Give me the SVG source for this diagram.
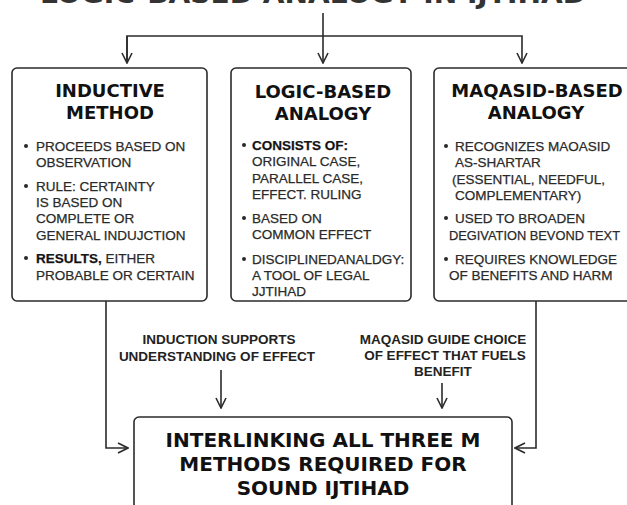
<svg xmlns="http://www.w3.org/2000/svg" width="627" height="505" viewBox="0 0 627 505">
<defs>
<style>
.box{fill:#fff;stroke:#2b2b2b;stroke-width:1.6}
.ttl{font-family:"DejaVu Sans",sans-serif;font-weight:bold;font-size:18px;fill:#111;text-anchor:middle}
.big{font-family:"DejaVu Sans",sans-serif;font-weight:bold;font-size:20px;fill:#111;text-anchor:middle}
.bt{font-family:"Liberation Sans",Arial,sans-serif;font-size:13.5px;fill:#2a2a2a;stroke:#2a2a2a;stroke-width:0.25}
.b{font-weight:bold;fill:#111}
.lbl{font-family:"Liberation Sans",Arial,sans-serif;font-weight:bold;font-size:13.5px;fill:#222;text-anchor:middle}
.con{fill:none;stroke:#2b2b2b;stroke-width:1.6}
.dot{fill:#2a2a2a}
</style>
<marker id="ah" viewBox="0 0 12 12" refX="11" refY="6" markerWidth="12" markerHeight="12" markerUnits="userSpaceOnUse" orient="auto">
<path d="M1,1 L11,6 L1,11" fill="none" stroke="#2b2b2b" stroke-width="1.6"/>
</marker>
</defs>
<rect width="627" height="505" fill="#fff"/>

<text x="313" y="3" font-family="DejaVu Sans,sans-serif" font-weight="bold" font-size="26" fill="#333" text-anchor="middle" textLength="546" lengthAdjust="spacingAndGlyphs">LOGIC-BASED ANALOGY IN IJTIHAD</text>

<g id="connectors">
<path class="con" d="M323,13 V63" marker-end="url(#ah)"/>
<path class="con" d="M127,63 V36 H522 V63" marker-end="url(#ah)"/>
<path class="con" d="M127,36 V63" marker-end="url(#ah)"/>
<path class="con" d="M106,301 V448 H128" marker-end="url(#ah)"/>
<path class="con" d="M536,301 V448 H515" marker-end="url(#ah)"/>
<path class="con" d="M221,370 V408" marker-end="url(#ah)"/>
<path class="con" d="M442,383 V408" marker-end="url(#ah)"/>
</g>

<g id="inductive">
<rect class="box" x="12" y="68" width="195" height="233" rx="5"/>
<text class="ttl" x="110" y="97">INDUCTIVE</text>
<text class="ttl" x="110" y="119">METHOD</text>
<circle class="dot" cx="26" cy="146" r="2"/>
<text class="bt" x="36" y="151">PROCEEDS BASED ON</text>
<text class="bt" x="36" y="167">OBSERVATION</text>
<circle class="dot" cx="26" cy="186" r="2"/>
<text class="bt" x="36" y="191">RULE: CERTAINTY</text>
<text class="bt" x="36" y="207">IS BASED ON</text>
<text class="bt" x="36" y="223">COMPLETE OR</text>
<text class="bt" x="36" y="240">GENERAL INDUJCTION</text>
<circle class="dot" cx="26" cy="258" r="2"/>
<text class="bt" x="36" y="263"><tspan class="b">RESULTS,</tspan> EITHER</text>
<text class="bt" x="36" y="280">PROBABLE OR CERTAIN</text>
</g>

<g id="logic">
<rect class="box" x="231" y="68" width="180" height="233" rx="5"/>
<text class="ttl" x="323" y="98">LOGIC-BASED</text>
<text class="ttl" x="323" y="120">ANALOGY</text>
<circle class="dot" cx="244" cy="145" r="2"/>
<text class="bt" x="252" y="150"><tspan class="b">CONSISTS OF:</tspan></text>
<text class="bt" x="252" y="166">ORIGINAL CASE,</text>
<text class="bt" x="252" y="183">PARALLEL CASE,</text>
<text class="bt" x="252" y="199">EFFECT. RULING</text>
<circle class="dot" cx="244" cy="218" r="2"/>
<text class="bt" x="252" y="223">BASED ON</text>
<text class="bt" x="252" y="239">COMMON EFFECT</text>
<circle class="dot" cx="244" cy="259" r="2"/>
<text class="bt" x="252" y="264">DISCIPLINEDANALDGY:</text>
<text class="bt" x="252" y="280">A TOOL OF LEGAL</text>
<text class="bt" x="252" y="296">JJTIHAD</text>
</g>

<g id="maqasid">
<rect class="box" x="434" y="68" width="210" height="233" rx="5"/>
<text class="ttl" x="537" y="97">MAQASID-BASED</text>
<text class="ttl" x="536" y="119">ANALOGY</text>
<circle class="dot" cx="446" cy="146" r="2"/>
<text class="bt" x="455" y="151">RECOGNIZES MAOASID</text>
<text class="bt" x="455" y="167">AS-SHARTAR</text>
<text class="bt" x="452" y="184">(ESSENTIAL, NEEDFUL,</text>
<text class="bt" x="455" y="200">COMPLEMENTARY)</text>
<circle class="dot" cx="446" cy="218" r="2"/>
<text class="bt" x="455" y="223">USED TO BROADEN</text>
<text class="bt" x="449" y="240" textLength="171" lengthAdjust="spacingAndGlyphs">DEGIVATION BEVOND TEXT</text>
<circle class="dot" cx="446" cy="259" r="2"/>
<text class="bt" x="455" y="264">REQUIRES KNOWLEDGE</text>
<text class="bt" x="449" y="280">OF BENEFITS AND HARM</text>
</g>

<g id="label-induction">
<text class="lbl" x="219" y="344">INDUCTION SUPPORTS</text>
<text class="lbl" x="217" y="361">UNDERSTANDING OF EFFECT</text>
</g>

<g id="label-maqasid">
<text class="lbl" x="443" y="344">MAQASID GUIDE CHOICE</text>
<text class="lbl" x="445" y="360">OF EFFECT THAT FUELS</text>
<text class="lbl" x="443" y="376">BENEFIT</text>
</g>

<g id="interlinking">
<rect class="box" x="134" y="417" width="378" height="110" rx="5"/>
<text class="big" x="323" y="447">INTERLINKING ALL THREE M</text>
<text class="big" x="323" y="471">METHODS REQUIRED FOR</text>
<text class="big" x="323" y="495">SOUND IJTIHAD</text>
</g>
</svg>
